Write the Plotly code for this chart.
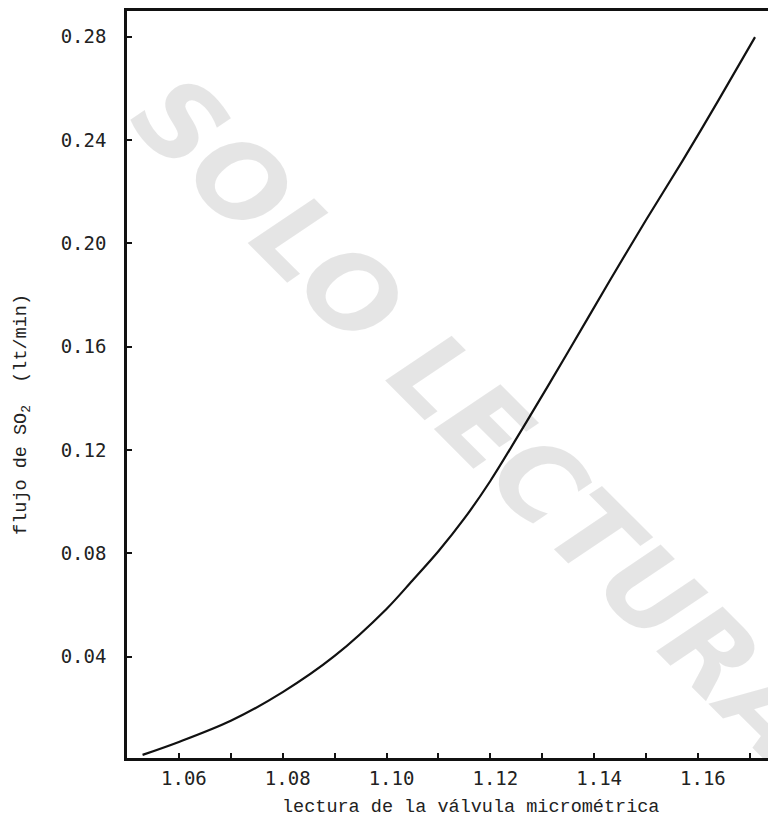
import plotly.graph_objects as go

# Calibration curve: SO2 flow vs micrometric valve reading
valve_reading = [1.053, 1.060, 1.070, 1.080, 1.090, 1.100, 1.105, 1.110, 1.115,
                 1.120, 1.127, 1.135, 1.143, 1.150, 1.157, 1.164, 1.171]
so2_flow = [0.002, 0.007, 0.0152, 0.0263, 0.0403, 0.0585, 0.0695, 0.0808, 0.0935,
            0.108, 0.131, 0.158, 0.1855, 0.209, 0.2318, 0.2555, 0.2798]

x_ticks = [1.06, 1.08, 1.10, 1.12, 1.14, 1.16]
x_tick_labels = ["1.06", "1.08", "1.10", "1.12", "1.14", "1.16"]
y_ticks = [0.04, 0.08, 0.12, 0.16, 0.20, 0.24, 0.28]
y_tick_labels = ["0.04", "0.08", "0.12", "0.16", "0.20", "0.24", "0.28"]

x_title = "lectura de la válvula micrométrica"
y_title = "flujo de SO<sub>2</sub>  (lt/min)"
watermark = "SOLO LECTURA"

tick_font = dict(family="DejaVu Sans Mono", size=19, color="#222")
title_font = dict(family="Liberation Mono", size=18.5, color="#222")

fig = go.Figure()
fig.add_trace(go.Scatter(
    x=valve_reading, y=so2_flow, mode="lines",
    line=dict(color="#111", width=2.2, shape="spline", smoothing=0.9),
    showlegend=False, hoverinfo="skip",
))

fig.update_layout(
    width=768, height=824,
    margin=dict(l=127, r=0, t=11, b=66),
    paper_bgcolor="white", plot_bgcolor="white",
    xaxis=dict(
        range=[1.05, 1.1735], tickvals=x_ticks, ticktext=x_tick_labels,
        ticks="inside", ticklen=5, tickwidth=2, tickcolor="#111",
        minor=dict(ticks="inside", dtick=0.01, tick0=1.05, ticklen=5,
                   tickwidth=2, tickcolor="#111", showgrid=False),
        showline=True, linecolor="#111", linewidth=2.5, mirror=True,
        showgrid=False, zeroline=False, tickfont=tick_font,
        ticklabelstandoff=1, ticklabelshift=5,
    ),
    yaxis=dict(
        range=[0.0008, 0.2899], tickvals=y_ticks, ticktext=y_tick_labels,
        ticks="inside", ticklen=5, tickwidth=2, tickcolor="#111",
        showline=True, linecolor="#111", linewidth=2.5, mirror=False,
        showgrid=False, zeroline=False, tickfont=tick_font,
        ticklabelstandoff=14,
    ),
    annotations=[
        dict(text=x_title, xref="paper", yref="paper", x=0.536, y=-0.066,
             showarrow=False, font=title_font, xanchor="center", yanchor="middle"),
        dict(text=y_title, xref="paper", yref="paper", x=-0.163, y=0.46,
             textangle=-90, showarrow=False, font=title_font,
             xanchor="center", yanchor="middle"),
        dict(text=watermark, xref="paper", yref="paper", x=0.545, y=0.455,
             textangle=45, showarrow=False,
             font=dict(family="DejaVu Sans", size=108, color="rgba(0,0,0,0.1)",
                       weight="bold", style="italic"),
             xanchor="center", yanchor="middle"),
    ],
)

fig.write_html("out.html")
